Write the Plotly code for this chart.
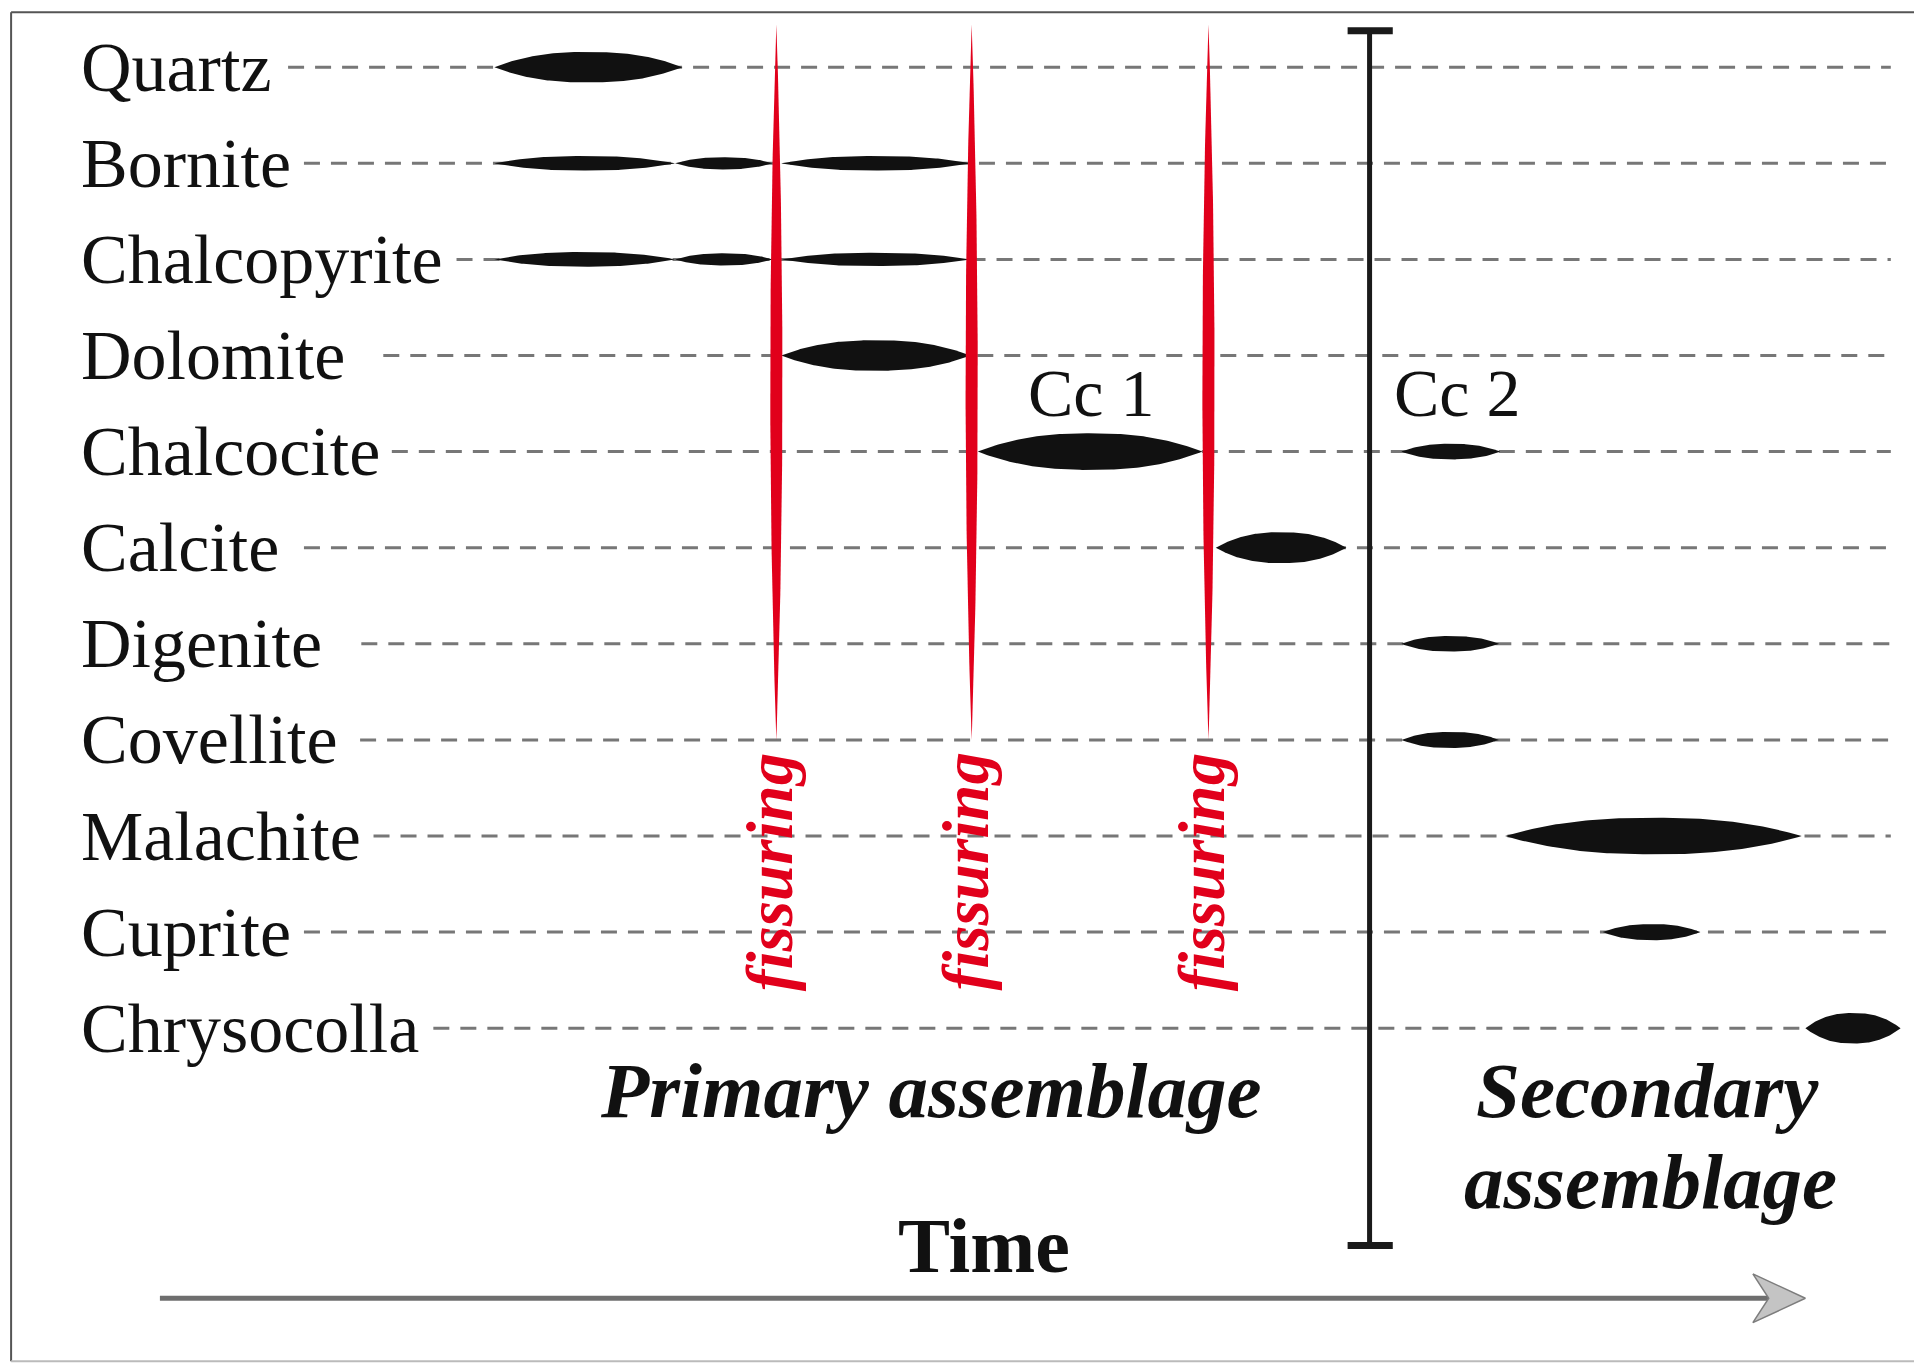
import numpy as np
import plotly.graph_objects as go

# ---------------- data ----------------
minerals = ["Quartz", "Bornite", "Chalcopyrite", "Dolomite", "Chalcocite", "Calcite",
            "Digenite", "Covellite", "Malachite", "Cuprite", "Chrysocolla"]
# where each dashed guide line starts (time units) and where all end
guide_start = [236, 249, 374, 314, 321, 249, 296, 295, 306, 249, 355]
guide_end = 1549

# crystallisation periods: mineral index, start, end, relative abundance (half thickness)
lens_row = [0, 1, 1, 1, 2, 2, 2, 3, 4, 4, 5, 6, 7, 8, 9, 10]
lens_start = [405, 405, 553, 640, 405, 553, 640, 640, 801, 1148, 996, 1148, 1148, 1233, 1313, 1479]
lens_end = [559, 553, 633, 795, 553, 633, 795, 795, 985, 1229, 1103, 1228, 1228, 1476, 1393, 1557]
lens_half = [12.5, 6.0, 5.0, 6.0, 6.0, 5.0, 5.5, 12.5, 15.0, 6.4, 12.7, 6.4, 6.6, 15.0, 6.6, 12.5]

# fissuring events
fissure_times = [636, 796, 990]
fissure_top = -0.445
fissure_bottom = 7.0
fissure_half = 5.0

# primary / secondary boundary
boundary_time = 1122
boundary_top = -0.38
boundary_bottom = 12.26

generation_labels = ["Cc 1", "Cc 2"]
generation_x = [894, 1194]
generation_row = 3.39

time_arrow_start = 131
time_arrow_end = 1479
time_arrow_row = 12.81

ROW_PX = 78.7          # reference px per row (for thickness conversion)
X_RANGE = [0, 1568]
Y_RANGE = [13.494, -0.699]
SHAPE_EXP = 2.4

SERIF = "Liberation Serif, Times New Roman, serif"
RED = "#e1001b"


def profile(n=100):
    u = np.linspace(-1, 1, n)
    return u, 1 - np.abs(u) ** SHAPE_EXP


def lens(x0, x1, yc, h):
    u, p = profile()
    xs = x0 + (u + 1) / 2 * (x1 - x0)
    w = h * p
    return (np.concatenate([xs, xs[::-1]]),
            np.concatenate([yc - w, (yc + w)[::-1]]))


fig = go.Figure()

# dashed guide lines
for i, name in enumerate(minerals):
    fig.add_trace(go.Scatter(
        x=[guide_start[i], guide_end], y=[i, i], mode="lines",
        line=dict(color="#777777", width=3, dash="16px,11px"),
        hoverinfo="skip", showlegend=False))

# mineral lenses
for r, a, b, h in zip(lens_row, lens_start, lens_end, lens_half):
    xs, ys = lens(a, b, r, h / ROW_PX)
    fig.add_trace(go.Scatter(
        x=xs, y=ys, mode="lines", fill="toself", fillcolor="#111111",
        line=dict(width=0, color="#111111"), hoverinfo="skip", showlegend=False))

# fissures (vertical red lenses)
for t in fissure_times:
    u, p = profile()
    yy = fissure_top + (u + 1) / 2 * (fissure_bottom - fissure_top)
    w = fissure_half * (1 - u ** 2)
    fig.add_trace(go.Scatter(
        x=np.concatenate([t - w, (t + w)[::-1]]),
        y=np.concatenate([yy, yy[::-1]]),
        mode="lines", fill="toself", fillcolor=RED,
        line=dict(width=0, color=RED), hoverinfo="skip", showlegend=False))

# boundary I-bar
fig.add_trace(go.Scatter(
    x=[boundary_time, boundary_time], y=[boundary_top, boundary_bottom], mode="lines",
    line=dict(color="#1a1a1a", width=5), hoverinfo="skip", showlegend=False))
for yb in [boundary_top, boundary_bottom]:
    fig.add_trace(go.Scatter(
        x=[boundary_time - 18, boundary_time + 19], y=[yb, yb], mode="lines",
        line=dict(color="#1a1a1a", width=7), hoverinfo="skip", showlegend=False))

# time arrow
fig.add_trace(go.Scatter(
    x=[time_arrow_start, time_arrow_end - 30], y=[time_arrow_row, time_arrow_row],
    mode="lines", line=dict(color="#6e6e6e", width=5), hoverinfo="skip", showlegend=False))
ah = 20 / ROW_PX
fig.add_trace(go.Scatter(
    x=[time_arrow_end - 43, time_arrow_end, time_arrow_end - 43, time_arrow_end - 30,
       time_arrow_end - 43],
    y=[time_arrow_row - ah, time_arrow_row, time_arrow_row + ah, time_arrow_row,
       time_arrow_row - ah],
    mode="lines", fill="toself", fillcolor="#c4c4c4",
    line=dict(color="#7d7d7d", width=1.5), hoverinfo="skip", showlegend=False))

# mineral names
for i, name in enumerate(minerals):
    fig.add_annotation(x=65, y=i, text=name, showarrow=False, xanchor="left",
                       yanchor="middle", font=dict(family=SERIF, size=70, color="#111111"))

for lab, gx in zip(generation_labels, generation_x):
    fig.add_annotation(x=gx, y=generation_row, text=lab, showarrow=False,
                       font=dict(family=SERIF, size=68, color="#111111"))

for t in fissure_times:
    fig.add_annotation(x=t - 5, y=8.374, text="<b><i>fissuring</i></b>", showarrow=False,
                       textangle=-90, font=dict(family=SERIF, size=65, color=RED))

fig.add_annotation(x=762, y=10.65, text="<b><i>Primary assemblage</i></b>", showarrow=False,
                   font=dict(family=SERIF, size=79, color="#111111"))
fig.add_annotation(x=1350, y=10.65, text="<b><i>Secondary</i></b>", showarrow=False,
                   font=dict(family=SERIF, size=79, color="#111111"))
fig.add_annotation(x=1352, y=11.6, text="<b><i>assemblage</i></b>", showarrow=False,
                   font=dict(family=SERIF, size=79, color="#111111"))
fig.add_annotation(x=806, y=12.26, text="<b>Time</b>", showarrow=False,
                   font=dict(family=SERIF, size=78, color="#111111"))

# frame
fig.add_shape(type="line", xref="paper", yref="paper", x0=0.0058, x1=1, y0=0.991, y1=0.991,
              line=dict(color="#555555", width=2))
fig.add_shape(type="line", xref="paper", yref="paper", x0=0.0058, x1=0.0058, y0=0.002, y1=0.991,
              line=dict(color="#555555", width=2))
fig.add_shape(type="line", xref="paper", yref="paper", x0=0.0058, x1=1, y0=0.002, y1=0.002,
              line=dict(color="#bbbbbb", width=2))

fig.update_layout(
    width=1914, height=1364, margin=dict(l=0, r=0, t=0, b=0),
    paper_bgcolor="white", plot_bgcolor="white",
    xaxis=dict(range=X_RANGE, visible=False, fixedrange=True),
    yaxis=dict(range=Y_RANGE, visible=False, fixedrange=True),
    showlegend=False,
)

fig.write_html("out.html", config={"displayModeBar": False},
               post_script="document.body.style.margin='0';document.body.style.overflow='hidden';")
